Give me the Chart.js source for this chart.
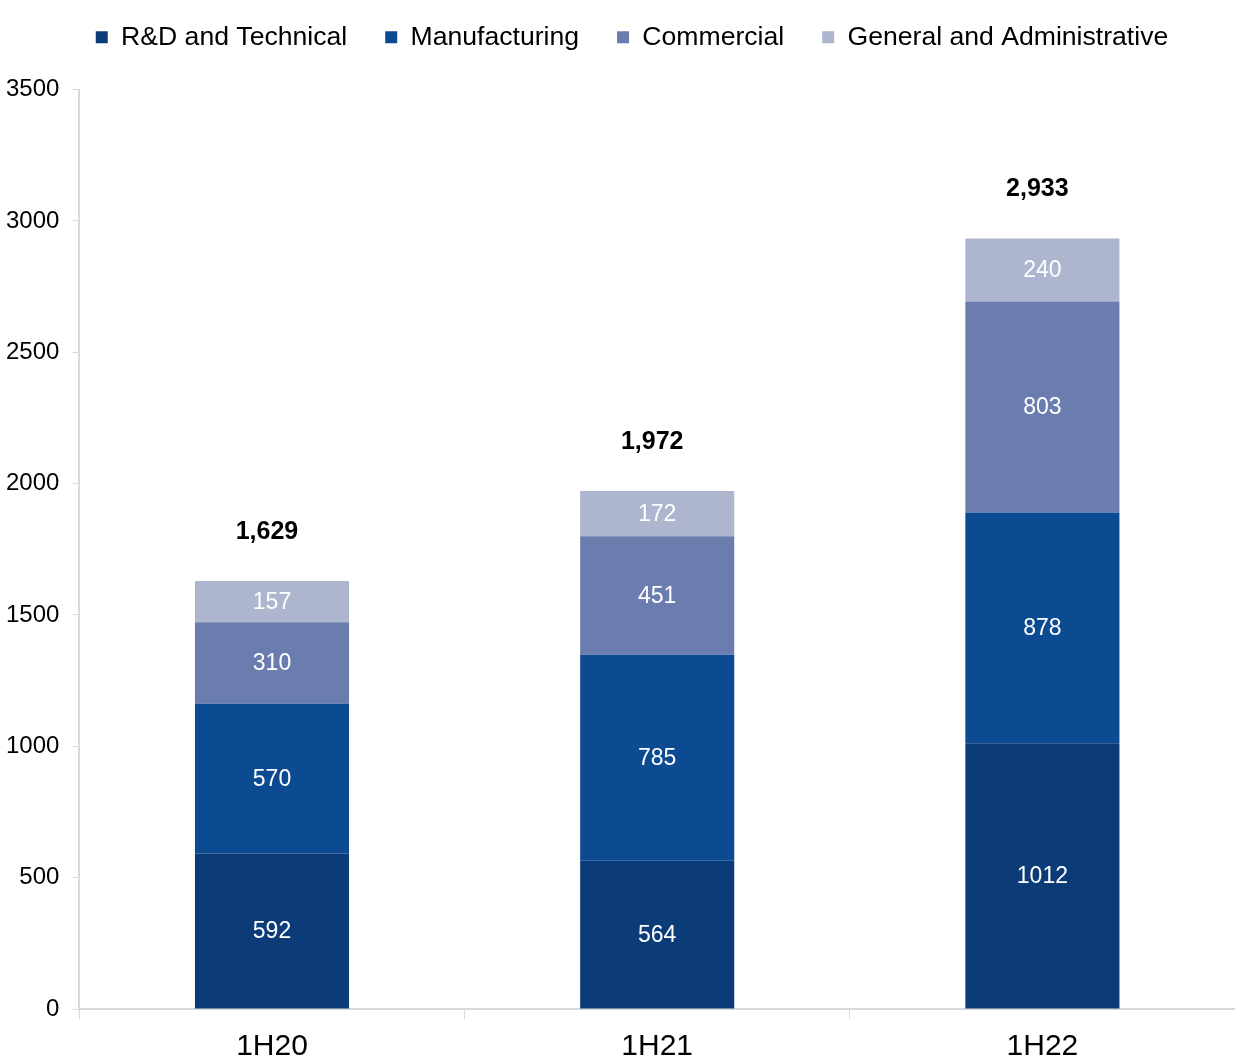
<!DOCTYPE html>
<html>
<head>
<meta charset="utf-8">
<script src="https://cdn.jsdelivr.net/npm/chart.js@4.4.0/dist/chart.umd.min.js"></script>
<style>
  html, body { margin: 0; padding: 0; background: #ffffff; }
  #wrap { width: 1235px; height: 1059px; position: relative; }
</style>
</head>
<body>
<div id="wrap"><canvas id="c" width="1235" height="1059"></canvas></div>
<script>
const categories = ["1H20", "1H21", "1H22"];
const rdTechnical = [592, 564, 1012];
const manufacturing = [570, 785, 878];
const commercial = [310, 451, 803];
const generalAdmin = [157, 172, 240];
const totals = ["1,629", "1,972", "2,933"];
const seriesNames = ["R&D and Technical", "Manufacturing", "Commercial", "General and Administrative"];
const yTicks = [0, 500, 1000, 1500, 2000, 2500, 3000, 3500];

const FONT = "'Liberation Sans', Arial, sans-serif";
const colors = ["#0b3c78", "#0c4a92", "#6b7daf", "#adb5cf"];

const legendShift = {
  id: 'legendShift',
  afterLayout(chart) {
    const lg = chart.legend;
    if (!lg) return;
    lg.left += 12; lg.right += 12;
    lg.top -= 29; lg.bottom -= 29;
  }
};

const segmentLabels = {
  id: 'segmentLabels',
  afterDatasetsDraw(chart) {
    const ctx = chart.ctx;
    ctx.save();
    ctx.font = "23px " + FONT;
    ctx.fillStyle = "#ffffff";
    ctx.textAlign = "center";
    ctx.textBaseline = "middle";
    chart.data.datasets.forEach((ds, di) => {
      const meta = chart.getDatasetMeta(di);
      meta.data.forEach((bar, i) => {
        const mid = (bar.y + bar.base) / 2;
        ctx.fillText(String(ds.data[i]), bar.x, mid + 1);
      });
    });
    ctx.font = "bold 25px " + FONT;
    ctx.fillStyle = "#000000";
    const last = chart.getDatasetMeta(chart.data.datasets.length - 1);
    last.data.forEach((bar, i) => {
      ctx.fillText(totals[i], bar.x - 5, bar.y - 49);
    });
    ctx.restore();
  }
};

new Chart(document.getElementById('c'), {
  type: 'bar',
  data: {
    labels: categories,
    datasets: [
      { label: seriesNames[0], data: rdTechnical, backgroundColor: colors[0] },
      { label: seriesNames[1], data: manufacturing, backgroundColor: colors[1] },
      { label: seriesNames[2], data: commercial, backgroundColor: colors[2] },
      { label: seriesNames[3], data: generalAdmin, backgroundColor: colors[3] }
    ]
  },
  options: {
    responsive: false,
    animation: false,
    devicePixelRatio: 1,
    layout: { padding: { top: 15, right: 0, left: 5, bottom: 0 } },
    datasets: { bar: { categoryPercentage: 1.0, barPercentage: 0.4, borderWidth: 0 } },
    plugins: {
      legend: {
        position: 'top',
        labels: {
          font: { family: FONT, size: 26.6 },
          color: '#000000',
          boxWidth: 12,
          boxHeight: 12,
          padding: 38
        }
      },
      tooltip: { enabled: false }
    },
    scales: {
      x: {
        stacked: true,
        afterFit(scale) { scale.height -= 16; },
        grid: { display: true, drawOnChartArea: false, drawTicks: true, tickLength: 10, color: '#d9d9d9', offset: true },
        border: { color: '#d9d9d9', width: 2 },
        ticks: { font: { family: FONT, size: 30, lineHeight: 1.0 }, color: '#000000', padding: 13 }
      },
      y: {
        stacked: true,
        min: 0,
        max: 3500,
        afterBuildTicks(axis) { axis.ticks = yTicks.map(v => ({ value: v })); },
        afterFit(scale) { scale.width -= 12; },
        grid: { display: true, drawOnChartArea: false, drawTicks: true, tickLength: 7, color: '#d9d9d9' },
        border: { color: '#d9d9d9', width: 2 },
        ticks: { font: { family: FONT, size: 24 }, color: '#000000', padding: 13, callback: (v) => String(v) }
      }
    }
  },
  plugins: [segmentLabels, legendShift]
});
</script>
</body>
</html>
